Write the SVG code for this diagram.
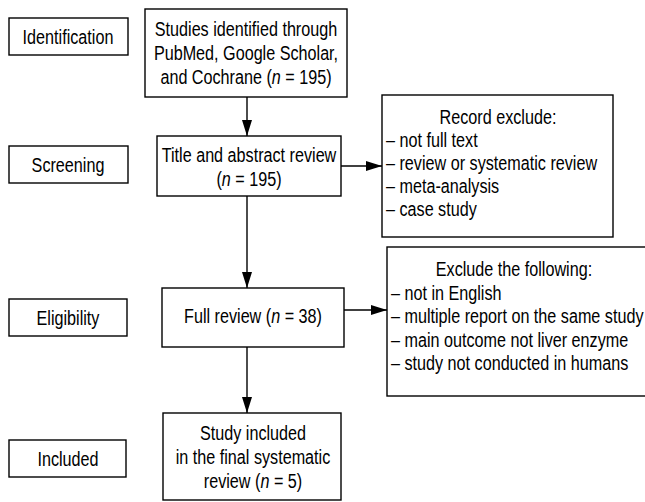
<svg xmlns="http://www.w3.org/2000/svg" width="645" height="502" viewBox="0 0 645 502">
<defs>
<style>
.box{fill:#fff;stroke:#000;stroke-width:1.4}
.t{font-family:"Liberation Sans",Arial,sans-serif;font-size:21px;fill:#000}
.c{text-anchor:middle}
.i{font-style:italic}
.ln{stroke:#000;stroke-width:1.4;fill:none}
</style>
<marker id="ah" viewBox="0 0 16 10" refX="16" refY="5" markerWidth="16" markerHeight="10" markerUnits="userSpaceOnUse" orient="auto">
<path d="M0,0 L16,5 L0,10 Z" fill="#000"/>
</marker>
</defs>
<rect width="645" height="502" fill="#fff"/>

<g id="connectors">
<line class="ln" x1="247" y1="97" x2="247" y2="136" marker-end="url(#ah)"/>
<line class="ln" x1="247" y1="196" x2="247" y2="288" marker-end="url(#ah)"/>
<line class="ln" x1="247" y1="347" x2="247" y2="413" marker-end="url(#ah)"/>
<line class="ln" x1="341" y1="166" x2="382" y2="166" marker-end="url(#ah)"/>
<line class="ln" x1="344" y1="310" x2="387" y2="310" marker-end="url(#ah)"/>
</g>

<g id="stage-identification">
<rect class="box" x="9" y="18" width="119" height="37"/>
<text class="t c" transform="translate(68,44) scale(0.77,1)">Identification</text>
</g>
<g id="stage-screening">
<rect class="box" x="9" y="146" width="119" height="37"/>
<text class="t c" transform="translate(68,172) scale(0.77,1)">Screening</text>
</g>
<g id="stage-eligibility">
<rect class="box" x="9" y="299" width="118" height="37"/>
<text class="t c" transform="translate(68,325) scale(0.77,1)">Eligibility</text>
</g>
<g id="stage-included">
<rect class="box" x="9" y="440" width="117" height="37"/>
<text class="t c" transform="translate(68,466) scale(0.77,1)">Included</text>
</g>

<g id="studies-identified">
<rect class="box" x="145" y="9" width="202" height="88"/>
<text class="t c" transform="translate(246,36) scale(0.77,1)">Studies identified through</text>
<text class="t c" transform="translate(246,60) scale(0.77,1)">PubMed, Google Scholar,</text>
<text class="t c" transform="translate(246,84) scale(0.77,1)">and Cochrane (<tspan class="i">n</tspan> = 195)</text>
</g>

<g id="title-abstract-review">
<rect class="box" x="157" y="136" width="184" height="60"/>
<text class="t c" transform="translate(249,162) scale(0.77,1)">Title and abstract review</text>
<text class="t c" transform="translate(249,186) scale(0.77,1)">(<tspan class="i">n</tspan> = 195)</text>
</g>

<g id="record-exclude">
<rect class="box" x="382" y="95" width="231" height="142"/>
<text class="t c" transform="translate(498,124) scale(0.77,1)">Record exclude:</text>
<text class="t" transform="translate(386,147) scale(0.77,1)">– not full text</text>
<text class="t" transform="translate(386,170) scale(0.77,1)">– review or systematic review</text>
<text class="t" transform="translate(386,193) scale(0.77,1)">– meta-analysis</text>
<text class="t" transform="translate(386,216) scale(0.77,1)">– case study</text>
</g>

<g id="full-review">
<rect class="box" x="162" y="288" width="182" height="59"/>
<text class="t c" transform="translate(253,323) scale(0.77,1)">Full review (<tspan class="i">n</tspan> = 38)</text>
</g>

<g id="exclude-following">
<rect class="box" x="387" y="247" width="263" height="149"/>
<text class="t c" transform="translate(514,276) scale(0.77,1)">Exclude the following:</text>
<text class="t" transform="translate(391,299.5) scale(0.77,1)">– not in English</text>
<text class="t" transform="translate(391,323) scale(0.77,1)">– multiple report on the same study</text>
<text class="t" transform="translate(391,346.5) scale(0.77,1)">– main outcome not liver enzyme</text>
<text class="t" transform="translate(391,370) scale(0.77,1)">– study not conducted in humans</text>
</g>

<g id="study-included">
<rect class="box" x="163" y="413" width="178" height="87"/>
<text class="t c" transform="translate(253,440) scale(0.77,1)">Study included</text>
<text class="t c" transform="translate(253,464) scale(0.77,1)">in the final systematic</text>
<text class="t c" transform="translate(253,488) scale(0.77,1)">review (<tspan class="i">n</tspan> = 5)</text>
</g>
</svg>
